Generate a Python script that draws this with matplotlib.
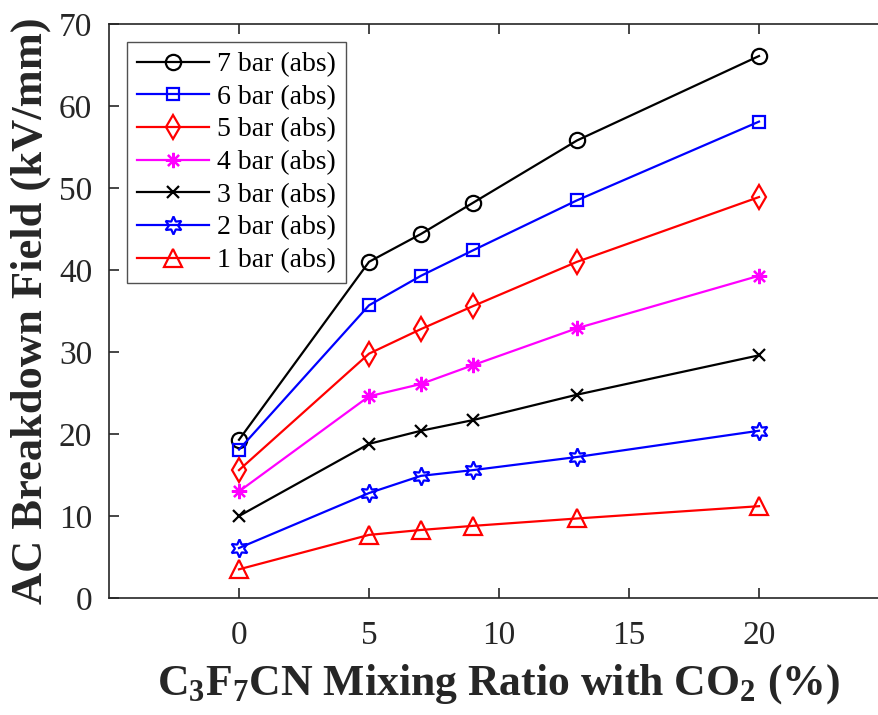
import numpy as np
import matplotlib
matplotlib.use('Agg')
import matplotlib.pyplot as plt

plt.rcParams['font.family'] = ['Liberation Serif', 'DejaVu Serif']
plt.rcParams['mathtext.fontset'] = 'custom'
plt.rcParams['mathtext.rm'] = 'Liberation Serif:bold'
plt.rcParams['mathtext.bf'] = 'Liberation Serif:bold'
plt.rcParams['mathtext.default'] = 'bf'

# mixing ratio (%) and breakdown field (kV/mm) at each pressure
ratio = [0, 5, 7, 9, 13, 20]
bar7 = [19.3, 41.0, 44.4, 48.2, 55.8, 66.1]
bar6 = [18.1, 35.7, 39.3, 42.4, 48.5, 58.1]
bar5 = [15.6, 29.8, 32.8, 35.6, 41.0, 48.9]
bar4 = [13.0, 24.6, 26.1, 28.4, 32.9, 39.3]
bar3 = [10.0, 18.8, 20.4, 21.7, 24.8, 29.6]
bar2 = [6.1, 12.8, 14.9, 15.6, 17.2, 20.4]
bar1 = [3.5, 7.7, 8.3, 8.8, 9.7, 11.2]
labels = ['7 bar (abs)', '6 bar (abs)', '5 bar (abs)', '4 bar (abs)',
          '3 bar (abs)', '2 bar (abs)', '1 bar (abs)']

series = [bar7, bar6, bar5, bar4, bar3, bar2, bar1]
colors = ['k', '#0000ff', '#ff0000', '#ff00ff', 'k', '#0000ff', '#ff0000']
markers = ['o', 's', 'd', (8, 2, 0), 'x', (6, 1, 0), '^']
msizes = [11, 9, 12, 11, 8, 13, 13]

fig = plt.figure(figsize=(8.79, 7.15), dpi=100)
ax = fig.add_axes([0.124, 0.1636, 0.8874, 0.8028])

for y, c, m, ms, lab in zip(series, colors, markers, msizes, labels):
    ax.plot(ratio, y, color=c, marker=m, markersize=ms, markerfacecolor='none',
            markeredgecolor=c, markeredgewidth=1.6, linewidth=1.6, label=lab)

ax.set_xlim(-5, 25)
ax.set_ylim(0, 70)
ax.set_xticks([0, 5, 10, 15, 20])
ax.set_yticks(range(0, 71, 10))
ax.tick_params(direction='in', length=7, width=1.2, top=True, right=True,
               labelsize=24, colors='#262626')
ax.tick_params(axis='x', pad=16)
ax.tick_params(axis='y', pad=12)
for s in ax.spines.values():
    s.set_color('#262626')
    s.set_linewidth(1.2)

ax.set_xlabel(r'C$_3$F$_7$CN Mixing Ratio with CO$_2$ (%)', fontsize=31.5,
              fontweight='bold', color='#262626', labelpad=8)
ax.set_ylabel('AC Breakdown Field (kV/mm)', fontsize=32, fontweight='bold',
              color='#262626', labelpad=6)

leg = ax.legend(loc='upper left', fontsize=20, frameon=True, fancybox=False,
                edgecolor='#262626', handlelength=2.6, borderpad=0.35,
                labelspacing=0.26, handletextpad=0.3, borderaxespad=0.65)
leg.get_frame().set_linewidth(1.0)

fig.savefig('out.png', dpi=100)
